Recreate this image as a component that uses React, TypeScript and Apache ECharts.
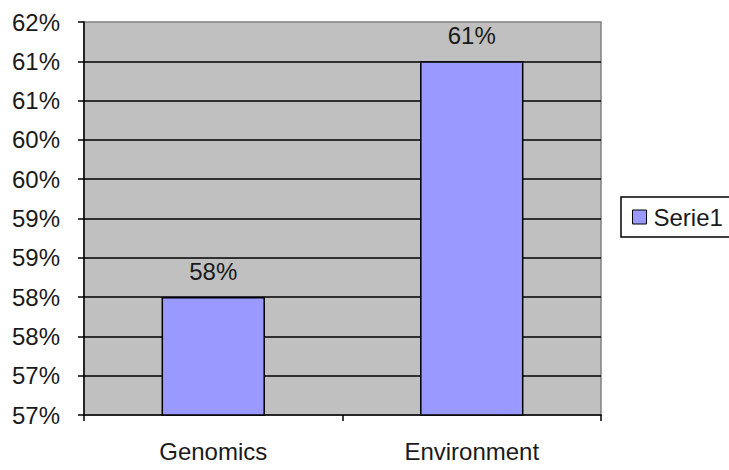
import React, { useEffect, useRef } from "react";
import * as echarts from "echarts";

// Category names and values (percent)
const categories = ["Genomics", "Environment"];
const serieValues = [58, 61];
const seriesName = "Serie1";

// Value axis range and step (percent)
const yMin = 56.5;
const yMax = 61.5;
const yStep = 0.5;

const FONT = "'Liberation Sans', Arial, sans-serif";
const FONT_SIZE = 24;
const TEXT_COLOR = "#1a1a1a";

export default function App() {
  const ref = useRef<HTMLDivElement>(null);

  useEffect(() => {
    if (!ref.current) return;
    const chart = echarts.init(ref.current, null, { renderer: "svg" });
    chart.setOption({
      animation: false,
      backgroundColor: "#ffffff",
      textStyle: { fontFamily: FONT },
      grid: {
        left: 84,
        right: 128,
        top: 22,
        bottom: 55,
        show: true,
        backgroundColor: "#C0C0C0",
        borderColor: "#808080",
        borderWidth: 1.5,
      },
      legend: {
        show: true,
        left: 621,
        top: 197,
        orient: "vertical",
        padding: [8, 30, 8, 11],
        borderColor: "#000000",
        borderWidth: 1.5,
        itemWidth: 14,
        itemHeight: 14,
        itemGap: 0,
        icon: "rect",
        itemStyle: { color: "#9999FF", borderColor: "#000000", borderWidth: 1 },
        textStyle: { fontFamily: FONT, fontSize: FONT_SIZE, color: TEXT_COLOR, padding: [0, 0, 0, 2] },
        data: [seriesName],
      },
      xAxis: {
        type: "category",
        data: categories,
        boundaryGap: true,
        axisLine: { show: true, lineStyle: { color: "#000000", width: 1.5 } },
        axisTick: { show: true, length: 6, inside: false, alignWithLabel: false, lineStyle: { color: "#000000", width: 1.5 } },
        axisLabel: { margin: 24, fontFamily: FONT, fontSize: FONT_SIZE, color: TEXT_COLOR },
        splitLine: { show: false },
      },
      yAxis: {
        type: "value",
        min: yMin,
        max: yMax,
        interval: yStep,
        axisLine: { show: true, lineStyle: { color: "#000000", width: 1.5 } },
        axisTick: { show: true, length: 6, inside: false, lineStyle: { color: "#000000", width: 1.5 } },
        axisLabel: {
          margin: 24,
          fontFamily: FONT,
          fontSize: FONT_SIZE,
          color: TEXT_COLOR,
          formatter: (v: number) => Math.round(v) + "%",
        },
        splitLine: {
          show: true,
          showMinLine: false,
          showMaxLine: false,
          lineStyle: { color: "#000000", width: 1.6 },
        },
      },
      series: [
        {
          name: seriesName,
          type: "bar",
          data: serieValues,
          barWidth: "40%",
          itemStyle: { color: "#9999FF", borderColor: "#000000", borderWidth: 1.5 },
          label: {
            show: true,
            position: "top",
            distance: 14,
            fontFamily: FONT,
            fontSize: FONT_SIZE,
            color: TEXT_COLOR,
            formatter: (p: any) => Math.round(p.value) + "%",
          },
        },
      ],
    });
    return () => chart.dispose();
  }, []);

  return (
    <div
      ref={ref}
      style={{ position: "fixed", left: 0, top: 0, width: 729, height: 470 }}
    />
  );
}
